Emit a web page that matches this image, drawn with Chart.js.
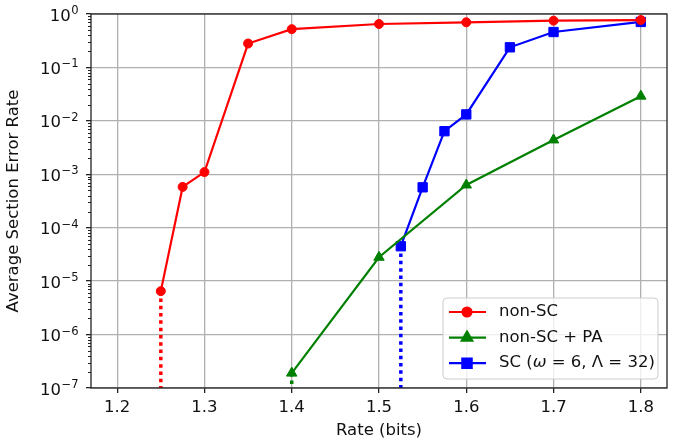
<!DOCTYPE html>
<html>
<head>
<meta charset="utf-8">
<script src="https://cdn.jsdelivr.net/npm/chart.js@4/dist/chart.umd.min.js"></script>
<style>
  body { margin: 0; background: #fff; }
  canvas { display: block; }
</style>
</head>
<body>
<canvas id="myChart" width="681" height="445"></canvas>
<script>
// data
const nonScRate = [1.25, 1.275, 1.3, 1.35, 1.4, 1.5, 1.6, 1.7, 1.8];
const nonScSER = [6.5e-6, 5.8e-4, 1.1e-3, 0.28, 0.52, 0.65, 0.70, 0.75, 0.77];

const paRate = [1.4, 1.5, 1.6, 1.7, 1.8];
const paSER = [1.9e-7, 2.8e-5, 6.3e-4, 4.4e-3, 0.029];

const scRate = [1.525, 1.55, 1.575, 1.6, 1.65, 1.7, 1.8];
const scSER = [4.5e-5, 5.7e-4, 6.4e-3, 0.0132, 0.238, 0.46, 0.71];

const xTicks = [1.2, 1.3, 1.4, 1.5, 1.6, 1.7, 1.8];
const xTickLabels = ['1.2', '1.3', '1.4', '1.5', '1.6', '1.7', '1.8'];
const yDecades = [-7, -6, -5, -4, -3, -2, -1, 0];
// y labels are "10" with the exponent as superscript
const yTickBase = '10';
const yTickExp = ['−7', '−6', '−5', '−4', '−3', '−2', '−1', '0'];

const xMin = 1.17, xMax = 1.83;
const yMin = 1e-7, yMax = 1;

const FONT = 'DejaVu Sans';
const FS = 16.5;

function toPoints(xs, ys) {
  return xs.map((x, i) => ({ x: x, y: ys[i] }));
}

// dotted drop lines from the lowest point of each curve to the bottom axis
function dropLine(xs, ys) {
  return [{ x: xs[0], y: ys[0] }, { x: xs[0], y: yMin }];
}

const series = [
  { label: 'non-SC', color: 'red', style: 'circle', radius: 4.5, xs: nonScRate, ys: nonScSER },
  { label: 'non-SC + PA', color: 'green', style: 'triangle', radius: 6, xs: paRate, ys: paSER },
  { label: 'SC (ω = 6, Λ = 32)', color: 'blue', style: 'rect', radius: 6.6, xs: scRate, ys: scSER }
];

const datasets = [];
series.forEach(s => {
  datasets.push({
    label: s.label,
    data: toPoints(s.xs, s.ys),
    borderColor: s.color,
    backgroundColor: s.color,
    borderWidth: 2.2,
    pointStyle: s.style,
    pointRadius: s.radius,
    pointBorderWidth: 1,
    pointHoverRadius: s.radius,
    tension: 0,
    order: 1
  });
});
series.forEach(s => {
  datasets.push({
    label: '',
    data: dropLine(s.xs, s.ys),
    borderColor: s.color,
    borderWidth: 3.5,
    borderDash: [3.5, 3.8],
    borderCapStyle: 'butt',
    pointRadius: 0,
    order: 2
  });
});

function isMajor(v) {
  const l = Math.log10(v);
  return Math.abs(l - Math.round(l)) < 1e-9;
}

// box round the plot, short minor ticks and the 10^n labels on the log axis
const framePlugin = {
  id: 'frame',
  afterDraw(chart) {
    const ctx = chart.ctx;
    const a = chart.chartArea;
    const y = chart.scales.y;
    ctx.save();
    ctx.strokeStyle = '#222';
    ctx.lineWidth = 1;
    y.ticks.forEach(t => {
      if (isMajor(t.value)) return;
      const py = Math.round(y.getPixelForValue(t.value)) + 0.5;
      ctx.beginPath();
      ctx.moveTo(a.left - 3, py);
      ctx.lineTo(a.left, py);
      ctx.stroke();
    });
    ctx.lineWidth = 1.3;
    ctx.strokeRect(a.left, a.top, a.right - a.left, a.bottom - a.top);

    ctx.fillStyle = '#111';
    ctx.textBaseline = 'alphabetic';
    ctx.textAlign = 'left';
    const supFS = FS * 0.7;
    const right = a.left - 13;
    yDecades.forEach((e, i) => {
      const py = y.getPixelForValue(Math.pow(10, e));
      ctx.font = supFS + 'px "' + FONT + '"';
      const we = ctx.measureText(yTickExp[i]).width;
      ctx.font = FS + 'px "' + FONT + '"';
      const wb = ctx.measureText(yTickBase).width;
      const x0 = right - we - wb;
      ctx.fillText(yTickBase, x0, py + 6.5);
      ctx.font = supFS + 'px "' + FONT + '"';
      ctx.fillText(yTickExp[i], x0 + wb + 0.5, py);
    });
    ctx.restore();
  }
};

// legend inside, lower right, matplotlib-like
const legendPlugin = {
  id: 'innerLegend',
  afterDraw(chart) {
    const ctx = chart.ctx;
    const a = chart.chartArea;
    const bw = 215, bh = 81;
    const bx = a.right - 9 - bw, by = a.bottom - 9 - bh;
    ctx.save();
    ctx.beginPath();
    ctx.roundRect(bx, by, bw, bh, 4);
    ctx.fillStyle = 'rgba(255,255,255,0.8)';
    ctx.fill();
    ctx.strokeStyle = '#cccccc';
    ctx.lineWidth = 1;
    ctx.stroke();
    ctx.font = FS + 'px "' + FONT + '"';
    ctx.textBaseline = 'middle';
    ctx.fillStyle = '#111';
    series.forEach((s, i) => {
      const ry = by + 14 + i * 25.6;
      ctx.beginPath();
      ctx.strokeStyle = s.color;
      ctx.lineWidth = 2.2;
      ctx.moveTo(bx + 6, ry);
      ctx.lineTo(bx + 43, ry);
      ctx.stroke();
      ctx.fillStyle = s.color;
      Chart.helpers.drawPoint(ctx, {
        pointStyle: s.style, radius: s.radius, rotation: 0, borderWidth: 1
      }, bx + 24, ry);
      ctx.fillStyle = '#111';
      const tx = bx + 56;
      if (i < 2) {
        ctx.fillText(s.label, tx, ry);
      } else {
        // omega drawn in italic like mathtext
        let x = tx;
        const parts = [['SC (', false], ['ω', true], [' = 6, Λ = 32)', false]];
        parts.forEach(p => {
          ctx.font = (p[1] ? 'italic ' : '') + FS + 'px "' + FONT + '"';
          ctx.fillText(p[0], x, ry);
          x += ctx.measureText(p[0]).width;
        });
        ctx.font = FS + 'px "' + FONT + '"';
      }
    });
    ctx.restore();
  }
};

Chart.defaults.font.family = FONT;
Chart.defaults.font.size = FS;
Chart.defaults.color = '#111';

new Chart(document.getElementById('myChart'), {
  type: 'line',
  data: { datasets: datasets },
  options: {
    responsive: false,
    animation: false,
    events: [],
    layout: { padding: { top: 14, right: 14, left: 0, bottom: 0 } },
    plugins: {
      legend: { display: false },
      tooltip: { enabled: false }
    },
    scales: {
      x: {
        type: 'linear',
        min: xMin,
        max: xMax,
        afterBuildTicks: (scale) => {
          scale.ticks = xTicks.map(v => ({ value: v }));
        },
        afterFit: (scale) => { scale.height = 57; },
        ticks: {
          callback: (v) => {
            const i = xTicks.findIndex(t => Math.abs(t - v) < 1e-9);
            return i >= 0 ? xTickLabels[i] : '';
          },
          padding: 5,
          maxRotation: 0,
          autoSkip: false
        },
        grid: { color: '#b0b0b0', lineWidth: 1.3, tickLength: 5, tickColor: '#222' },
        border: { display: false },
        title: { display: true, text: 'Rate (bits)', padding: { top: 0, bottom: 4 } }
      },
      y: {
        type: 'logarithmic',
        min: yMin,
        max: yMax,
        afterBuildTicks: (scale) => {
          const t = [];
          yDecades.forEach(e => {
            for (let m = 1; m <= 9; m++) {
              const v = m * Math.pow(10, e);
              if (v <= yMax * 1.0000001) t.push({ value: v });
            }
          });
          scale.ticks = t;
        },
        afterFit: (scale) => { scale.width = 91; },
        ticks: {
          autoSkip: false,
          display: false
        },
        grid: {
          color: (c) => (c.tick && isMajor(c.tick.value)) ? '#b0b0b0' : 'rgba(0,0,0,0)',
          tickColor: (c) => (c.tick && isMajor(c.tick.value)) ? '#222' : 'rgba(0,0,0,0)',
          lineWidth: 1.3,
          tickLength: 5
        },
        border: { display: false },
        title: { display: true, text: 'Average Section Error Rate', padding: { top: 4, bottom: 0 } }
      }
    }
  },
  plugins: [framePlugin, legendPlugin]
});
</script>
</body>
</html>
